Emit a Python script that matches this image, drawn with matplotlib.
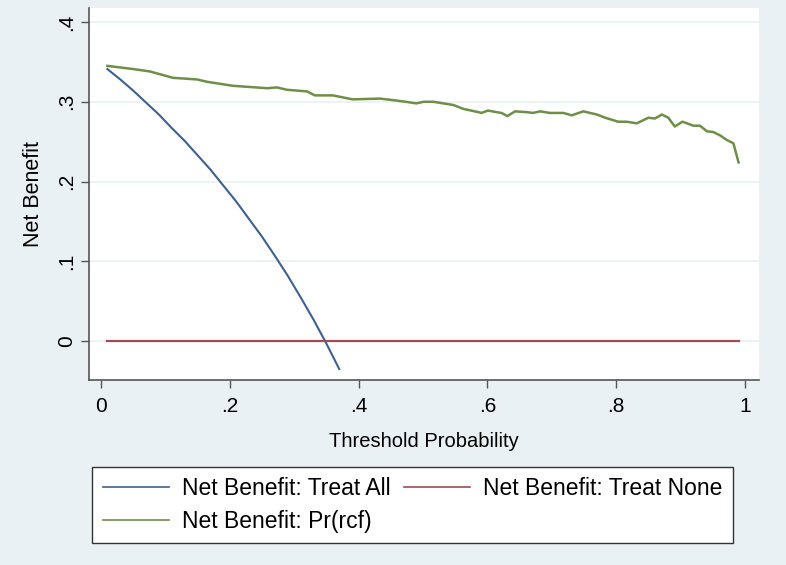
import numpy as np
import matplotlib.pyplot as plt

plt.rcParams['font.family'] = ['Liberation Sans', 'DejaVu Sans']

# ------------------ Datos ------------------

# Net Benefit: Treat All
x_all = [0.01, 0.03, 0.05, 0.07, 0.09, 0.11, 0.13, 0.15, 0.17, 0.19,
         0.21, 0.23, 0.25, 0.27, 0.29, 0.31, 0.33, 0.35, 0.37]
nb_all = [0.341, 0.328, 0.314, 0.299, 0.284, 0.267, 0.251, 0.233, 0.215, 0.195,
          0.175, 0.153, 0.131, 0.107, 0.082, 0.055, 0.027, -0.003, -0.035]

# Net Benefit: Treat None
x_none = [0.01, 0.99]
nb_none = [0.0, 0.0]

# Net Benefit: Pr(rcf)
x_model = [0.01, 0.05, 0.076, 0.112, 0.149, 0.165, 0.205, 0.258, 0.273, 0.289,
           0.32, 0.332, 0.36, 0.391, 0.433, 0.464, 0.49, 0.501, 0.516, 0.547,
           0.563, 0.586, 0.591, 0.601, 0.614, 0.622, 0.631, 0.643, 0.661, 0.671,
           0.682, 0.697, 0.718, 0.731, 0.749, 0.77, 0.783, 0.803, 0.816, 0.832,
           0.85, 0.86, 0.871, 0.881, 0.891, 0.903, 0.92, 0.93, 0.941, 0.951,
           0.961, 0.972, 0.982, 0.99]
nb_model = [0.345, 0.341, 0.338, 0.330, 0.328, 0.325, 0.320, 0.317, 0.318, 0.315,
            0.313, 0.308, 0.308, 0.303, 0.304, 0.301, 0.298, 0.300, 0.300, 0.296,
            0.291, 0.287, 0.286, 0.289, 0.287, 0.286, 0.282, 0.288, 0.287, 0.286,
            0.288, 0.286, 0.286, 0.283, 0.288, 0.284, 0.280, 0.275, 0.275, 0.273,
            0.280, 0.279, 0.284, 0.280, 0.269, 0.275, 0.270, 0.270, 0.263, 0.262,
            0.258, 0.252, 0.248, 0.224]

x_ticks = [0, 0.2, 0.4, 0.6, 0.8, 1.0]
x_tick_labels = ['0', '.2', '.4', '.6', '.8', '1']
y_ticks = [0, 0.1, 0.2, 0.3, 0.4]
y_tick_labels = ['0', '.1', '.2', '.3', '.4']

labels = ['Net Benefit: Treat All', 'Net Benefit: Treat None', 'Net Benefit: Pr(rcf)']

# ------------------ Colores estilo Stata ------------------
bg_color = '#EAF1F4'
grid_color = '#EAF0F3'
c_all = '#3D6191'
c_none = '#A34A52'
c_model = '#6E8F45'
axis_color = '#555555'

fig = plt.figure(figsize=(7.86, 5.65), dpi=100, facecolor=bg_color)
ax = fig.add_axes([0.1132, 0.3274, 0.8524, 0.6584])
ax.set_facecolor('white')

for y in y_ticks:
    ax.axhline(y, color=grid_color, lw=1.2, zorder=0)

l_all, = ax.plot(x_all, nb_all, color=c_all, lw=1.5)
l_none, = ax.plot(x_none, nb_none, color=c_none, lw=1.6)
l_model, = ax.plot(x_model, nb_model, color=c_model, lw=1.8)

ax.set_xlim(-0.0186, 1.0217)
ax.set_ylim(-0.04875, 0.4175)

ax.set_xticks(x_ticks)
ax.set_xticklabels(x_tick_labels, fontsize=15)
ax.set_yticks(y_ticks)
ax.set_yticklabels(y_tick_labels, fontsize=15, rotation=90, va='center')

ax.tick_params(direction='out', length=6, width=1, color=axis_color)
ax.tick_params(axis='x', pad=6)
ax.tick_params(axis='y', pad=3)
for s in ['top', 'right']:
    ax.spines[s].set_visible(False)
for s in ['left', 'bottom']:
    ax.spines[s].set_color(axis_color)
    ax.spines[s].set_linewidth(1.2)

ax.set_xlabel('Threshold Probability', fontsize=14.5, labelpad=12)
ax.set_ylabel('Net Benefit', fontsize=15.5, labelpad=10)

leg = fig.legend([l_all, l_model, l_none], [labels[0], labels[2], labels[1]],
                 ncol=2, loc='center',
                 bbox_to_anchor=(412.5 / 786, 1 - 505 / 565),
                 fontsize=16.5, frameon=True, fancybox=False, framealpha=1,
                 handlelength=2.9, handletextpad=0.55, columnspacing=0.6,
                 labelspacing=0.45, borderpad=0.45)
leg.get_frame().set_edgecolor('#333333')
leg.get_frame().set_linewidth(1.0)
leg.get_frame().set_facecolor('white')
for h in leg.legend_handles:
    h.set_linewidth(1.2)

fig.savefig('out.png', dpi=100, facecolor=bg_color)
